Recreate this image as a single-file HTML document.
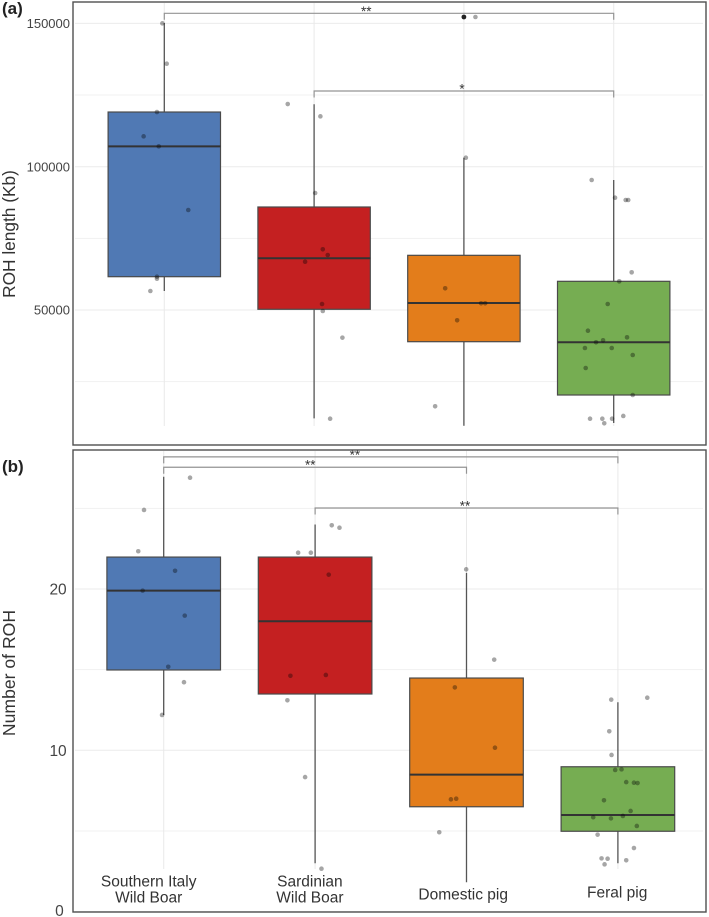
<!DOCTYPE html>
<html lang="en">
<head>
<meta charset="utf-8">
<title>ROH length and number of ROH by pig population</title>
<style>
  html, body { margin: 0; padding: 0; background: #fff; width: 709px; height: 917px; overflow: hidden; }
  svg { display: block; font-family: "Liberation Sans", sans-serif; }
  .jitter-point { mix-blend-mode: multiply; }
</style>
</head>
<body>
<svg id="figure" width="709" height="917" viewBox="0 0 709 917" xmlns="http://www.w3.org/2000/svg">
  <g id="panel-a"></g>
  <g id="panel-b"></g>
  <text x="2" y="14" font-size="17" font-weight="bold" fill="#222">(a)</text>
  <text x="2" y="472" font-size="17" font-weight="bold" fill="#222">(b)</text>
  <text transform="translate(15 234) rotate(-90)" text-anchor="middle" font-size="17.3" fill="#333">ROH length (Kb)</text>
  <text transform="translate(15 673) rotate(-90)" text-anchor="middle" font-size="17.6" fill="#333">Number of ROH</text>
</svg>
<script>
// ---------- shared ----------
const categories = [["Southern Italy", "Wild Boar"], ["Sardinian", "Wild Boar"], ["Domestic pig"], ["Feral pig"]];
const boxColors = ["#5079b4", "#c42021", "#e37d1b", "#76ad52"];

// ---------- panel (a): ROH length (Kb) ----------
const lengthTickLabels = [50000, 100000, 150000];
const lengthMinorTicks = [25000, 75000, 125000];
const lengthQ1 = [61620, 50250, 38940, 20340];
const lengthMedian = [107100, 68040, 52440, 38730];
const lengthQ3 = [119080, 85940, 69080, 60010];
const lengthWhiskerLow = [56630, 12200, 9630, 10570];
const lengthWhiskerHigh = [150130, 121770, 103140, 95360];
const lengthOutlierCategory = [2];
const lengthOutlierValue = [152230];
const lengthValues = [
  [150030, 135930, 119080, 110600, 107110, 84890, 61620, 60920, 56630],
  [121870, 117580, 90820, 71180, 69190, 66850, 52090, 49650, 40340, 12070],
  [152230, 103140, 57570, 52340, 52340, 46410, 16400],
  [95360, 89180, 88380, 88380, 63150, 60010, 52090, 42780, 40470, 39430, 38730, 36740, 36740, 34300, 29760, 20340, 13020, 12070, 12070, 12070, 10470]
];
const lengthJitter = [
  [-0.013, 0.016, -0.049, -0.138, -0.037, 0.160, -0.049, -0.049, -0.093],
  [-0.176, 0.042, 0.007, 0.058, 0.091, -0.060, 0.053, 0.058, 0.189, 0.107],
  [0.077, 0.013, -0.125, 0.115, 0.142, -0.045, -0.192],
  [-0.147, 0.009, 0.080, 0.097, 0.120, 0.037, -0.040, -0.172, 0.089, -0.071, -0.118, -0.192, -0.013, 0.127, -0.187, 0.127, 0.064, -0.158, -0.076, -0.011, -0.063]
];
const lengthBracketFrom = [0, 1];
const lengthBracketTo = [3, 3];
const lengthBracketLevel = [153520, 126410];
const lengthBracketLabel = ["**", "*"];
const lengthBracketLabelAt = [1.348, 1.987];

// ---------- panel (b): Number of ROH ----------
const countTickLabels = [0, 10, 20];
const countMinorTicks = [5, 15, 25];
const countQ1 = [14.98, 13.49, 6.5, 4.98];
const countMedian = [19.9, 18.0, 8.49, 5.99];
const countQ3 = [21.98, 21.98, 14.48, 8.98];
const countWhiskerLow = [12.19, 3.0, 1.82, 3.0];
const countWhiskerHigh = [26.96, 24.0, 21.0, 12.98];
const countOutlierCategory = [];
const countOutlierValue = [];
const countValues = [
  [26.9, 24.9, 22.34, 21.13, 19.9, 18.35, 15.18, 14.22, 12.19],
  [23.95, 23.8, 22.25, 22.25, 20.89, 14.62, 14.67, 13.1, 8.34, 2.66],
  [21.22, 15.62, 13.9, 10.16, 6.96, 7.0, 4.92],
  [13.14, 13.26, 11.18, 9.71, 8.78, 8.82, 8.03, 7.99, 7.97, 6.9, 6.24, 5.85, 5.78, 5.93, 5.31, 4.77, 3.94, 3.3, 3.28, 3.18, 2.93]
];
const countJitter = [
  [0.174, -0.130, -0.168, 0.075, -0.139, 0.139, 0.030, 0.134, -0.011],
  [0.110, 0.161, -0.112, -0.028, 0.090, -0.163, 0.071, -0.183, -0.066, 0.042],
  [-0.002, 0.183, -0.077, 0.188, -0.103, -0.068, -0.180],
  [-0.044, 0.194, -0.057, -0.042, -0.018, 0.024, 0.055, 0.106, 0.130, -0.092, 0.084, -0.163, -0.046, 0.033, 0.125, -0.134, 0.106, -0.108, -0.068, 0.055, -0.088]
];
const countBracketFrom = [0, 0, 1];
const countBracketTo = [3, 2, 3];
const countBracketLevel = [28.19, 27.55, 25.02];
const countBracketLabel = ["**", "**", "**"];
const countBracketLabelAt = [1.263, 0.968, 1.99];

// ---------- drawing ----------
const SVG_NS = "http://www.w3.org/2000/svg";
function mk(parent, tag, attrs, text) {
  const el = document.createElementNS(SVG_NS, tag);
  for (const k in attrs) el.setAttribute(k, attrs[k]);
  if (text !== undefined) el.textContent = text;
  parent.appendChild(el);
  return el;
}

function drawPanel(p) {
  const g = document.getElementById(p.id);
  const x = i => p.x0 + p.xStep * i;
  const y = v => p.yRef - (v - p.vRef) * p.yScale;
  let el;

  // background
  el = mk(g, "rect", { x: p.left, y: p.top, width: p.right - p.left, height: p.bottom - p.top, fill: "#fff" });
  
  

  // horizontal grid
  p.ticks.forEach(t => {
    el = mk(g, "line", { x1: p.left + 2, x2: p.right - 3, y1: y(t), y2: y(t), stroke: "#ebebeb", "stroke-width": 1 });
    
    
  });
  p.minor.forEach(t => {
    el = mk(g, "line", { x1: p.left + 2, x2: p.right - 3, y1: y(t), y2: y(t), stroke: "#f1f1f1", "stroke-width": 1 });
    
    
  });

  // vertical grid
  categories.forEach((c, i) => {
    el = mk(g, "line", { x1: x(i), x2: x(i), y1: p.top + 1, y2: p.gridEnd, stroke: "#e9e9e9", "stroke-width": 1 });
    
    
  });

  // whiskers
  categories.forEach((c, i) => {
    el = mk(g, "line", { x1: x(i), x2: x(i), y1: y(p.whiskerHigh[i]), y2: y(p.whiskerLow[i]), stroke: "#555", "stroke-width": 1.3 });
    
    
  });

  // boxes
  categories.forEach((c, i) => {
    el = mk(g, "rect", { x: x(i) - p.boxW / 2, y: y(p.q3[i]), width: p.boxW, height: y(p.q1[i]) - y(p.q3[i]), fill: boxColors[i], stroke: "#4a4a4a", "stroke-width": 1.2 });
    
    
    el = mk(g, "line", { x1: x(i) - p.boxW / 2, x2: x(i) + p.boxW / 2, y1: y(p.median[i]), y2: y(p.median[i]), stroke: "#333", "stroke-width": 2 });
    
    
  });

  // outliers
  p.outlierCat.forEach((c, i) => {
    el = mk(g, "circle", { cx: x(c), cy: y(p.outlierVal[i]), r: 2.4, fill: "#222" });
    
    
  });

  // jittered points
  p.values.forEach((series, i) => {
    series.forEach((v, j) => {
      el = mk(g, "circle", { cx: x(i + p.jitter[i][j]), cy: y(v), r: 2.3, fill: "#a6a6a6", class: "jitter-point" });
      
      
    });
  });

  // significance brackets
  p.brFrom.forEach((from, i) => {
    const ly = y(p.brLevel[i]);
    const d = "M" + x(from) + " " + (ly + 6.5) + "V" + ly + "H" + x(p.brTo[i]) + "V" + (ly + 6.5);
    el = mk(g, "path", { d: d, fill: "none", stroke: "#949494", "stroke-width": 1.2 });
    
    
    el = mk(g, "text", { x: x(p.brAt[i]), y: ly + 2.5, "text-anchor": "middle", "font-size": 13.5, fill: "#333" }, p.brLabel[i]);
    
    
  });

  // frame
  el = mk(g, "rect", { x: p.left, y: p.top, width: p.right - p.left, height: p.bottom - p.top, fill: "none", stroke: "#4f4f4f", "stroke-width": 1.4 });
  
  

  // y tick labels
  p.ticks.forEach(t => {
    el = mk(g, "text", { x: t === 0 ? p.tickX - 3 : p.tickX, y: Math.min(y(t) + p.tickFont * 0.36, 916), "text-anchor": "end", "font-size": p.tickFont, fill: "#444" }, String(t));
    
    
  });
}

drawPanel({
  id: "panel-a", left: 73, right: 706, top: 2, bottom: 445, gridEnd: 426,
  x0: 164.3, xStep: 149.8, boxW: 112.4, yRef: 310, vRef: 50000, yScale: 143.3 / 50000,
  ticks: lengthTickLabels, minor: lengthMinorTicks, tickX: 70, tickFont: 13,
  q1: lengthQ1, median: lengthMedian, q3: lengthQ3, whiskerLow: lengthWhiskerLow, whiskerHigh: lengthWhiskerHigh,
  outlierCat: lengthOutlierCategory, outlierVal: lengthOutlierValue,
  values: lengthValues, jitter: lengthJitter,
  brFrom: lengthBracketFrom, brTo: lengthBracketTo, brLevel: lengthBracketLevel, brLabel: lengthBracketLabel, brAt: lengthBracketLabelAt
});

drawPanel({
  id: "panel-b", left: 73, right: 706, top: 450, bottom: 912, gridEnd: 869,
  x0: 163.7, xStep: 151.4, boxW: 113.6, yRef: 911.6, vRef: 0, yScale: 16.13,
  ticks: countTickLabels, minor: countMinorTicks, tickX: 66.7, tickFont: 15.5,
  q1: countQ1, median: countMedian, q3: countQ3, whiskerLow: countWhiskerLow, whiskerHigh: countWhiskerHigh,
  outlierCat: countOutlierCategory, outlierVal: countOutlierValue,
  values: countValues, jitter: countJitter,
  brFrom: countBracketFrom, brTo: countBracketTo, brLevel: countBracketLevel, brLabel: countBracketLabel, brAt: countBracketLabelAt
});

// category labels (inside the lower panel)
const labelNudge = [-15, -5.2, -3.3, -0.7];
const labelBaseline = [886.7, 886.7, 899.3, 897.3];
const panelB = document.getElementById("panel-b");
categories.forEach((lines, i) => {
  lines.forEach((line, j) => {
    const el = mk(panelB, "text", { x: 163.7 + 151.4 * i + labelNudge[i], y: labelBaseline[i] + j * 16, "text-anchor": "middle", "font-size": 15.5, fill: "#333" }, line);
    
    
  });
});
</script>
</body>
</html>
